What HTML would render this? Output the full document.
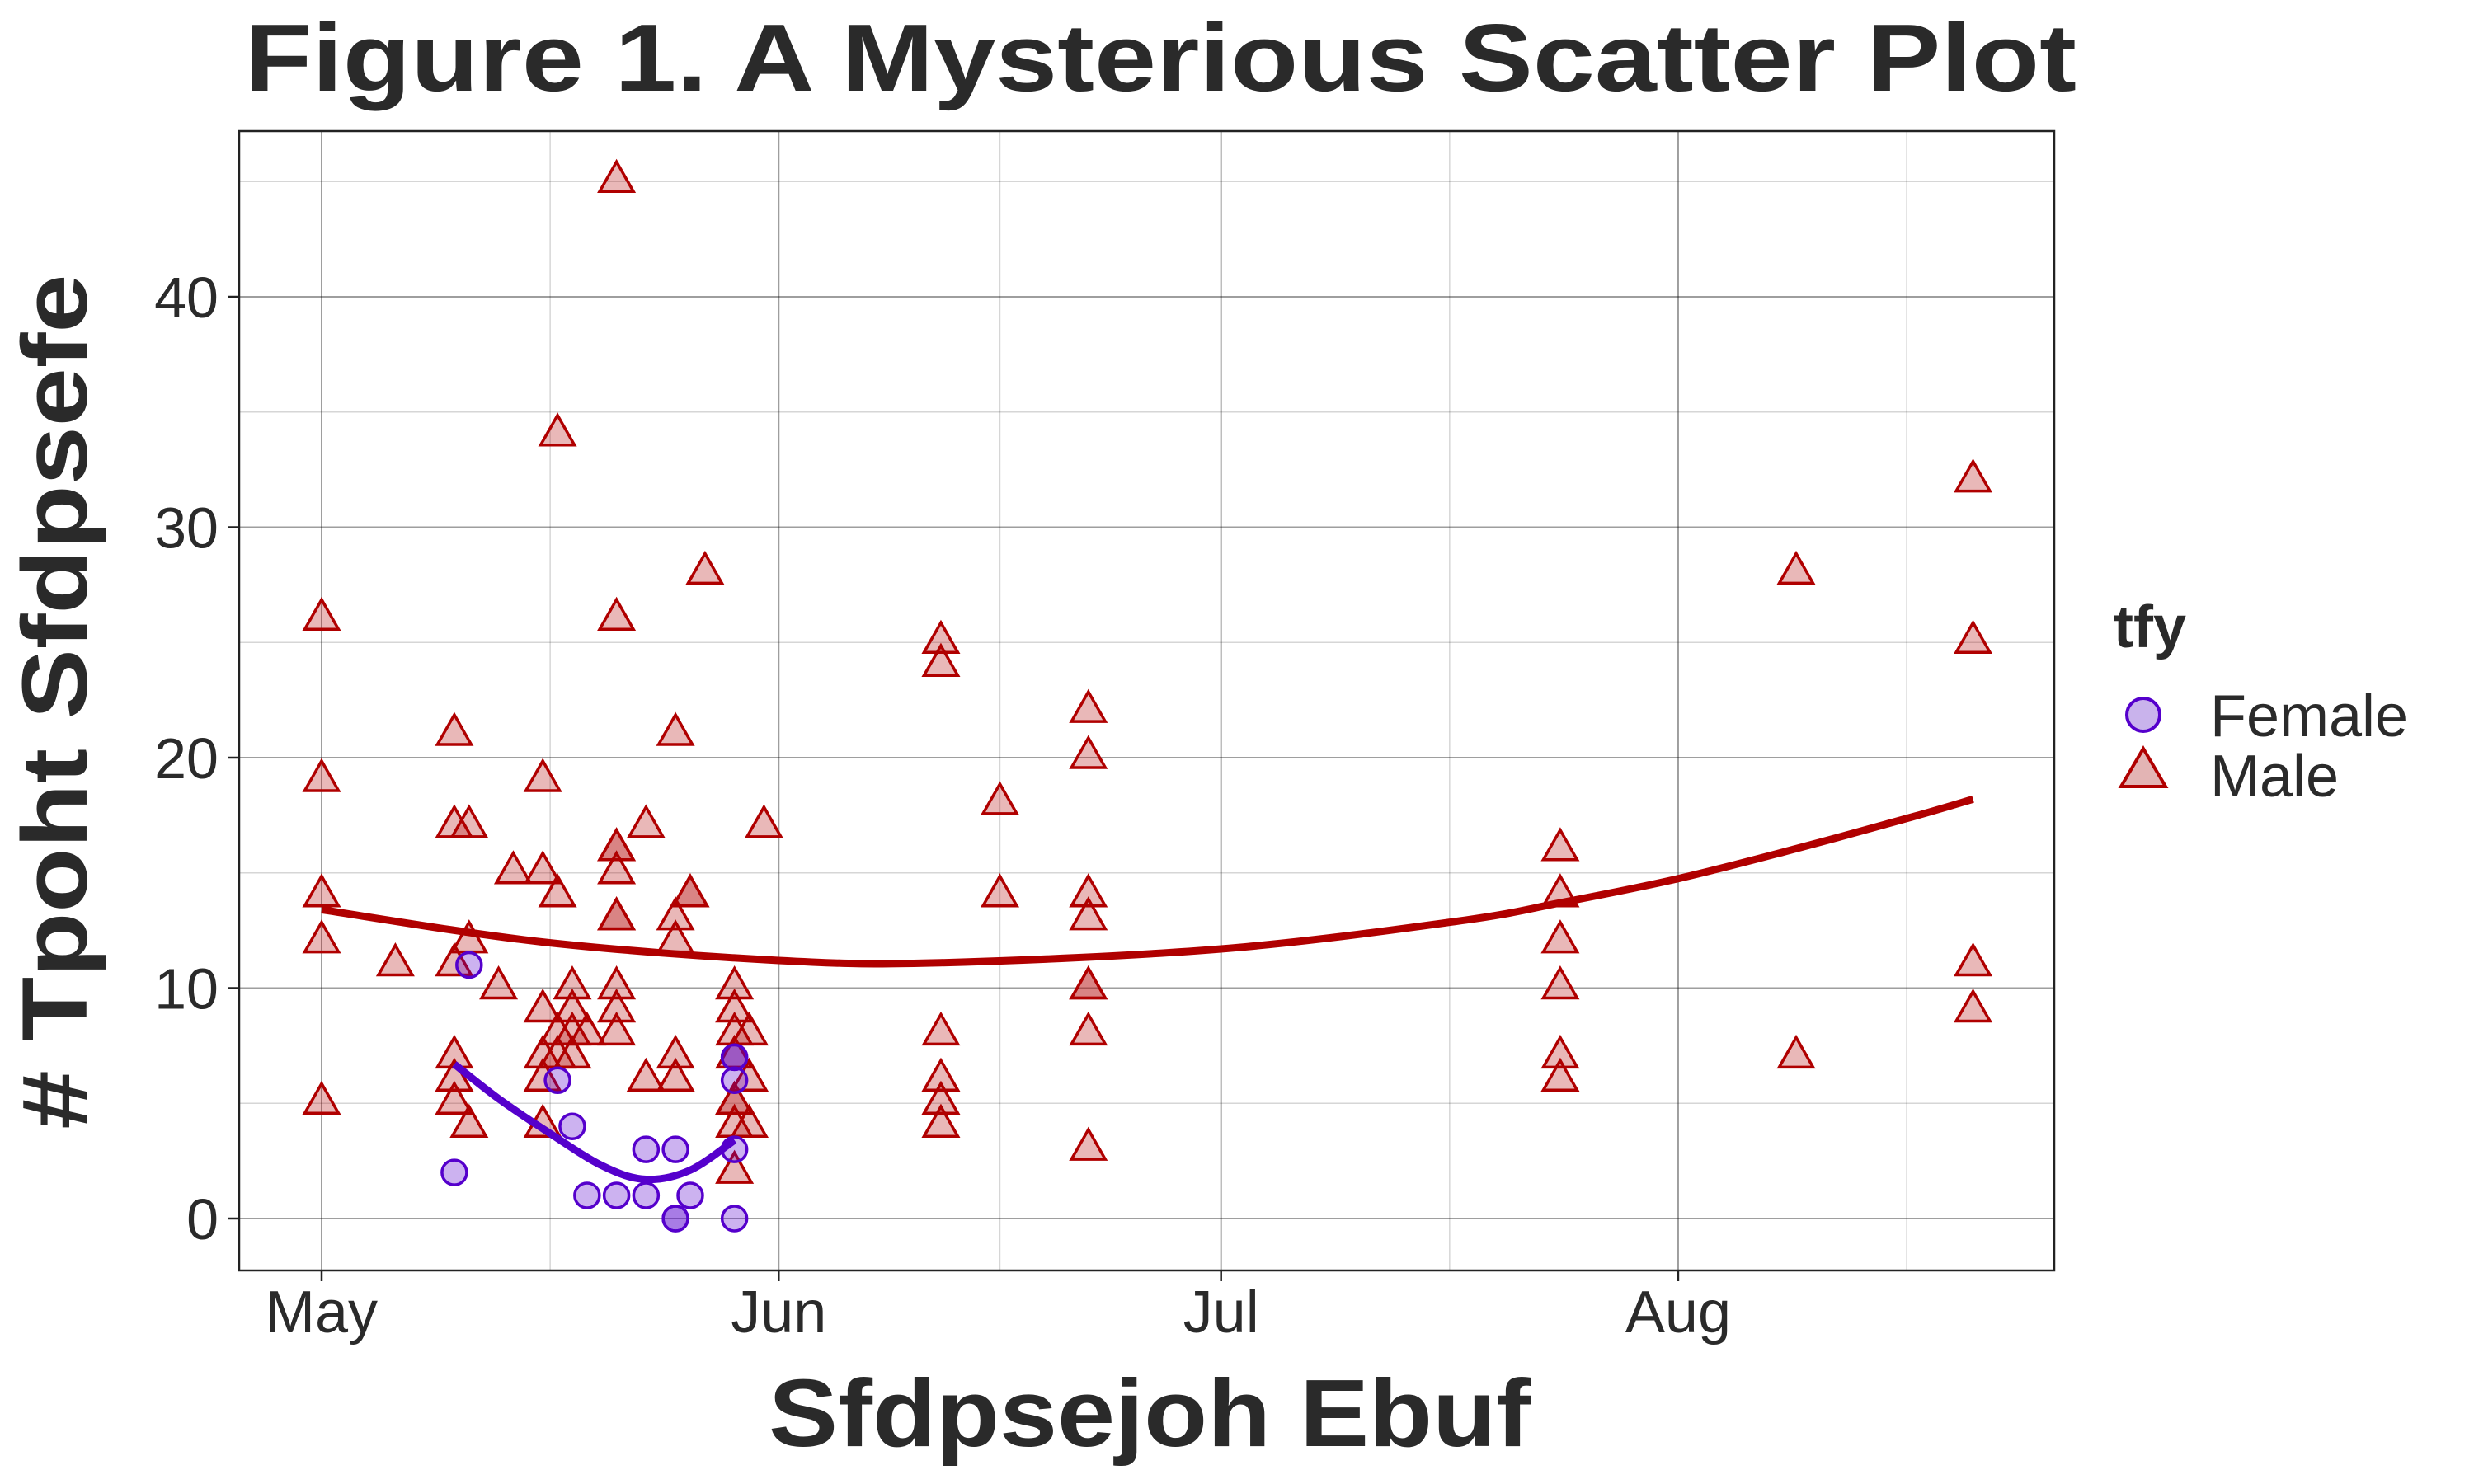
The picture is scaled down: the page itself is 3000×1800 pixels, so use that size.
<!DOCTYPE html>
<html><head><meta charset="utf-8"><style>
html,body{margin:0;padding:0;background:#fff;}
svg{display:block;font-family:"Liberation Sans",sans-serif;}
</style></head><body>
<svg id="chart" width="3000" height="1800" viewBox="0 0 3000 1800" xmlns="http://www.w3.org/2000/svg">
<rect width="3000" height="1800" fill="#fff"/>
<text x="1407" y="110" font-size="116" font-weight="bold" fill="#2a2a2a" text-anchor="middle" textLength="2222" lengthAdjust="spacingAndGlyphs">Figure 1. A Mysterious Scatter Plot</text>
<g id="grid"></g>
<g id="marks"></g>
<rect x="290" y="159" width="2201" height="1382" fill="none" stroke="#222" stroke-width="2.5"/>
<g id="axes"></g>
<text transform="translate(105,851) rotate(-90)" font-size="112" font-weight="bold" fill="#2a2a2a" text-anchor="middle" textLength="1037" lengthAdjust="spacingAndGlyphs"># Tpoht Sfdpsefe</text>
<text x="1394" y="1754" font-size="116" font-weight="bold" fill="#2a2a2a" text-anchor="middle" textLength="924" lengthAdjust="spacingAndGlyphs">Sfdpsejoh Ebuf</text>
<g>
<text x="2563" y="785" font-size="72" font-weight="bold" fill="#2a2a2a">tfy</text>
<g>
<circle cx="2599" cy="867" r="20" fill="#c9b3ec" stroke="#5500cc" stroke-width="4"/>
<text x="2680" y="893" font-size="72" fill="#2a2a2a">Female</text>
</g>
<g>
<polygon points="2599,908 2626,954 2572,954" fill="#e3b4b4" stroke="#b00000" stroke-width="4" stroke-linejoin="miter"/>
<text x="2680" y="966" font-size="72" fill="#2a2a2a">Male</text>
</g>
</g>
</svg>
<script>
// ---- data (days since May 1, counts) ----
const maleDays = [0,0,0,0,0,5,9,9,9,9,9,9,10,10,10,12,13,15,15,15,15,15,15,16,16,16,16,17,17,17,17,18,20,20,20,20,20,20,20,20,20,20,22,22,24,24,24,24,24,25,25,26,28,28,28,28,28,28,28,28,29,29,29,30,42,42,42,42,42,42,46,46,52,52,52,52,52,52,52,52,84,84,84,84,84,84,100,100,112,112,112,112];
const maleCounts = [26,19,14,12,5,11,21,17,11,7,6,5,17,12,4,10,15,19,15,9,7,6,4,34,14,8,7,10,9,8,7,8,45,26,16,16,15,13,13,10,9,8,17,6,21,13,12,7,6,14,14,28,10,9,8,7,5,5,4,2,8,6,4,17,25,24,8,6,5,4,18,14,22,20,14,13,10,10,8,3,16,14,12,10,7,6,28,7,32,25,11,9];
const femaleDays = [9,10,16,17,18,20,22,22,24,24,24,25,28,28,28,28,28];
const femaleCounts = [2,11,6,4,1,1,3,1,3,0,0,1,7,7,6,3,0];
const maleFitDays = [0,15,31,42,61,77,84,92,100,108,112];
const maleFitValues = [13.4,12.0,11.2,11.1,11.7,12.9,13.7,14.75,16.05,17.45,18.2];
const femaleFitDays = [9,12,15,19,22,25,28];
const femaleFitValues = [6.7,5.2,3.9,2.3,1.7,2.1,3.4];
const yTicks = [0,10,20,30,40];
const yMinorTicks = [5,15,25,35,45];
const xTickDays = [0,31,61,92];
const xTickLabels = ["May","Jun","Jul","Aug"];
const xMinorDays = [15.5,46,76.5,107.5];

const NS = "http://www.w3.org/2000/svg";
const X0 = 390, DAYPX = 17.88, Y0 = 1478, UNITPX = 27.95;
const PL = 290, PR = 2491, PT = 159, PB = 1541;
function xs(d){ return X0 + d*DAYPX; }
function ys(v){ return Y0 - v*UNITPX; }
function mk(tag, attrs, parent){
  const e = document.createElementNS(NS, tag);
  for (const k in attrs) e.setAttribute(k, attrs[k]);
  parent.appendChild(e);
  return e;
}
const grid = document.getElementById('grid');
const marks = document.getElementById('marks');
const axes = document.getElementById('axes');

yMinorTicks.forEach(v => {
  const l = mk('line', {x1:PL, x2:PR, y1:ys(v), y2:ys(v), stroke:'#000', 'stroke-opacity':0.16, 'stroke-width':1.5}, grid);
  
  
});
xMinorDays.forEach(d => {
  const l = mk('line', {x1:xs(d), x2:xs(d), y1:PT, y2:PB, stroke:'#000', 'stroke-opacity':0.16, 'stroke-width':1.5}, grid);
  
  
});
yTicks.forEach(v => {
  const l = mk('line', {x1:PL, x2:PR, y1:ys(v), y2:ys(v), stroke:'#000', 'stroke-opacity':0.38, 'stroke-width':2}, grid);
  
  
  const t = mk('line', {x1:PL-13, x2:PL, y1:ys(v), y2:ys(v), stroke:'#222', 'stroke-width':2.5}, axes);
  
  
  const lb = mk('text', {x:265, y:ys(v)+25, 'font-size':70, fill:'#2a2a2a', 'text-anchor':'end'}, axes);
  lb.textContent = v;
  
  
});
xTickDays.forEach((d,i) => {
  const l = mk('line', {x1:xs(d), x2:xs(d), y1:PT, y2:PB, stroke:'#000', 'stroke-opacity':0.38, 'stroke-width':2}, grid);
  
  
  const t = mk('line', {x1:xs(d), x2:xs(d), y1:PB, y2:PB+13, stroke:'#222', 'stroke-width':2.5}, axes);
  
  
  const lb = mk('text', {x:xs(d), y:1616, 'font-size':72, fill:'#2a2a2a', 'text-anchor':'middle'}, axes);
  lb.textContent = xTickLabels[i];
  
  
});

maleDays.forEach((d,i) => {
  const cx = xs(d), cy = ys(maleCounts[i]);
  const p = mk('polygon', {points:`${cx},${cy-24} ${cx+20.5},${cy+12} ${cx-20.5},${cy+12}`, fill:'#b00000', 'fill-opacity':0.28, stroke:'#b00000', 'stroke-width':3.5}, marks);
  
  
});
femaleDays.forEach((d,i) => {
  const c = mk('circle', {cx:xs(d), cy:ys(femaleCounts[i]), r:15, fill:'#5500cc', 'fill-opacity':0.3, stroke:'#5500cc', 'stroke-width':3.5}, marks);
  
  
});

function spline(ds, vs){
  const pts = ds.map((d,i)=>[xs(d), ys(vs[i])]);
  let s = `M${pts[0][0]},${pts[0][1]}`;
  for (let i=0;i<pts.length-1;i++){
    const p0 = pts[Math.max(0,i-1)], p1 = pts[i], p2 = pts[i+1], p3 = pts[Math.min(pts.length-1,i+2)];
    const c1 = [p1[0]+(p2[0]-p0[0])/6, p1[1]+(p2[1]-p0[1])/6];
    const c2 = [p2[0]-(p3[0]-p1[0])/6, p2[1]-(p3[1]-p1[1])/6];
    s += ` C${c1[0]},${c1[1]} ${c2[0]},${c2[1]} ${p2[0]},${p2[1]}`;
  }
  return s;
}
const mf = mk('path', {d:spline(maleFitDays, maleFitValues), fill:'none', stroke:'#b00000', 'stroke-width':9}, marks);


const ff = mk('path', {d:spline(femaleFitDays, femaleFitValues), fill:'none', stroke:'#5500cc', 'stroke-width':9}, marks);


</script>
</body></html>
